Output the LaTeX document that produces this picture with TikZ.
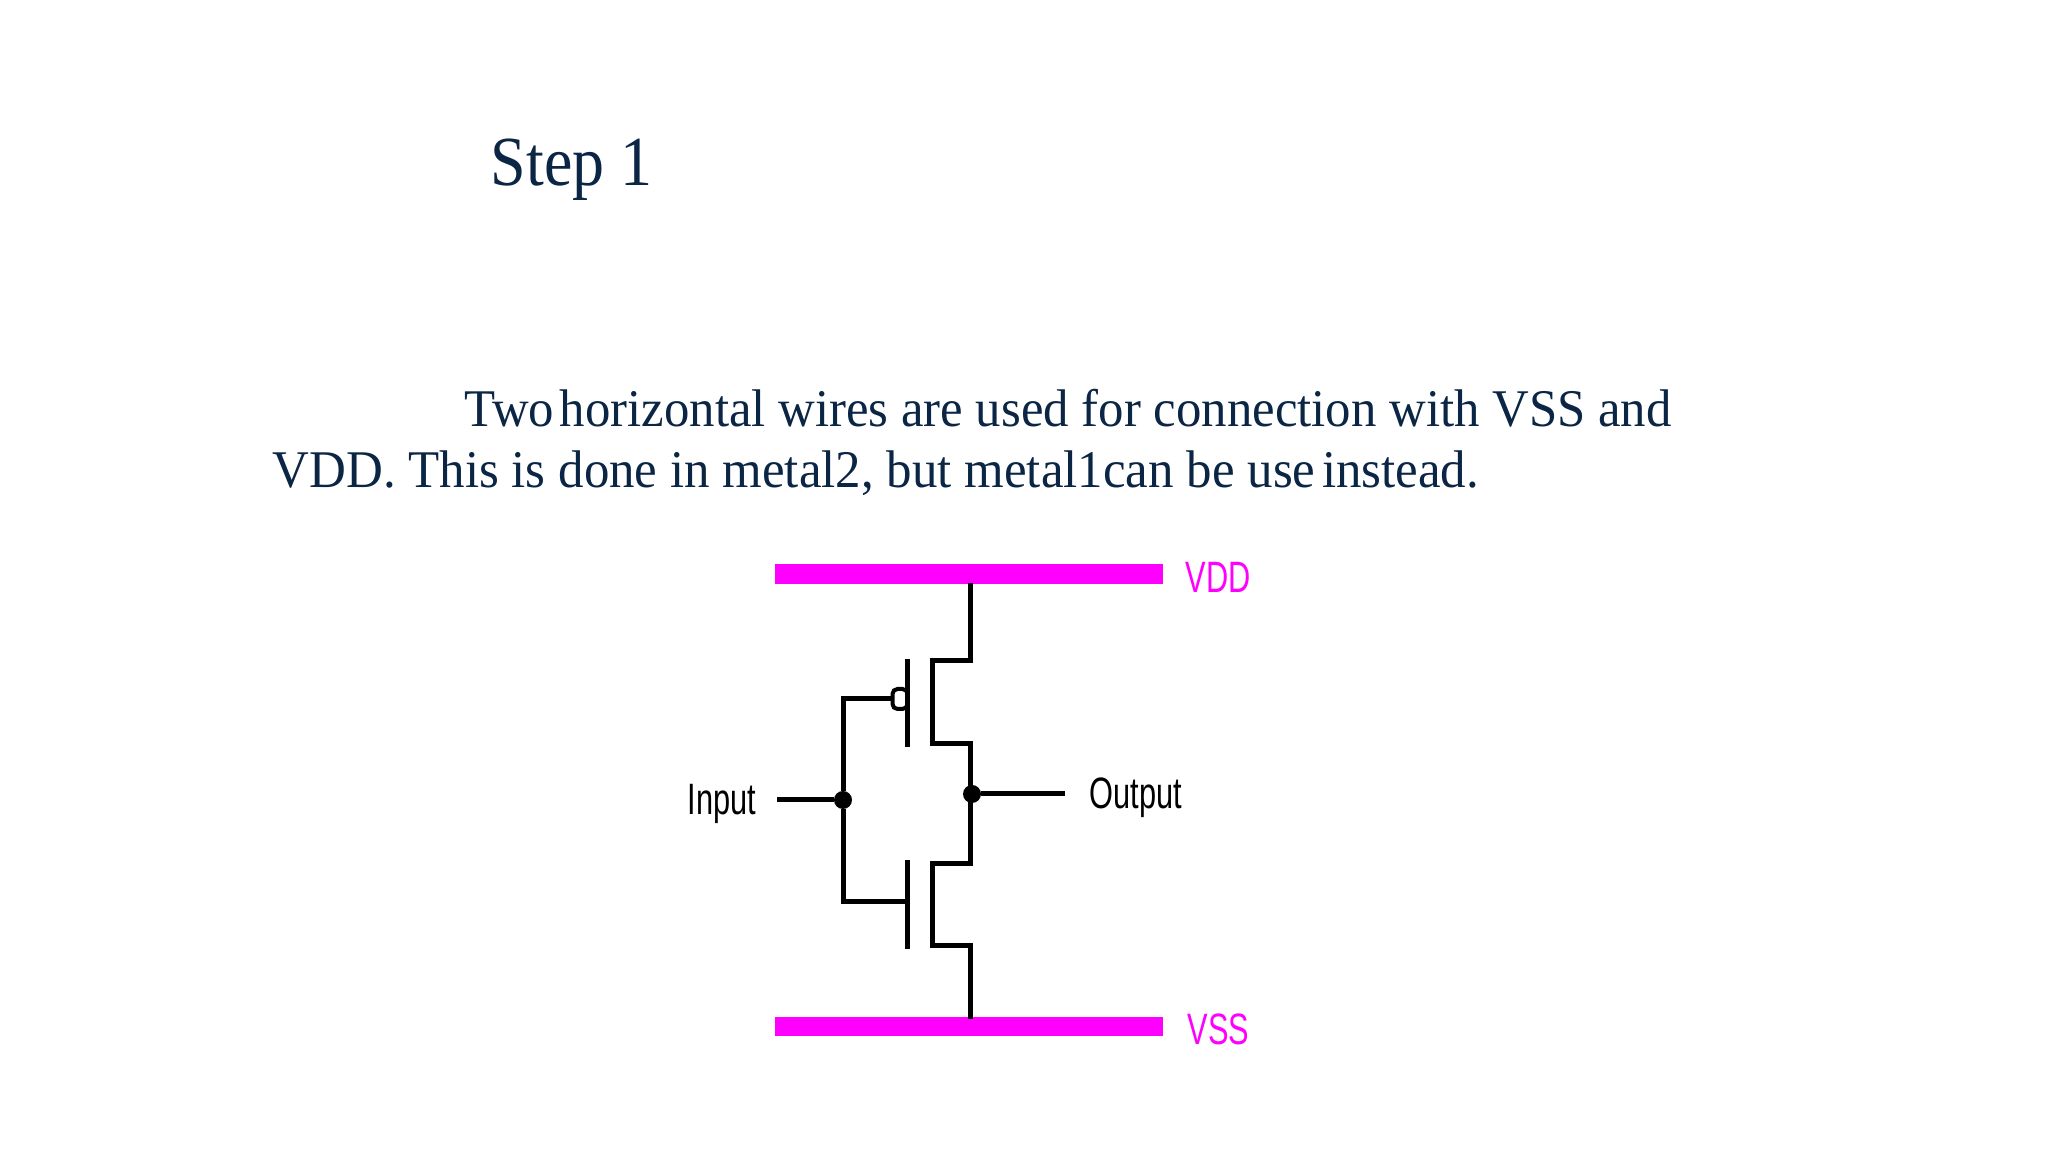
\documentclass[tikz,border=0pt]{standalone}
\usepackage{fontspec}
\setmainfont{Liberation Serif}
\newfontfamily\labelfont{Liberation Sans}
\definecolor{navytext}{HTML}{0B2545}
\definecolor{railpink}{HTML}{FF00FF}
\begin{document}
\begin{tikzpicture}[
        rail/.style={rectangle, fill=railpink, inner sep=0pt, minimum width=3.88cm},
        wire/.style={line width=0.05cm, black},
        junction/.style={circle, fill=black, inner sep=0pt, outer sep=0pt, minimum size=0.18cm},
        bubble/.style={rectangle, rounded corners=0.05cm, draw=black, line width=0.04cm, fill=white, inner sep=0pt, minimum width=0.15cm, minimum height=0.2cm},
        heading/.style={anchor=base west, inner sep=0pt, text=navytext, font=\fontsize{18.2pt}{20pt}\selectfont},
        body/.style={anchor=base west, inner sep=0pt, text=navytext, font=\fontsize{13.7pt}{16pt}\selectfont},
        pinlabel/.style={anchor=base west, inner sep=0pt, font=\labelfont\fontsize{12.5pt}{14pt}\selectfont}
    ]
    \useasboundingbox (0,0) rectangle (20.48,11.52);

    % Text
    \node (title) at (4.90, 9.66) [heading] {\scalebox{1}[1.1]{Step 1}};
    \node (lineone) at (4.64, 7.25) [body] {\scalebox{1.055}[1.1]{Two\hspace{-0.14em} horizontal wires are used for connection with VSS and}};
    \node (linetwo) at (2.72, 6.64) [body] {\scalebox{1.058}[1.1]{VDD. This is done in metal2, but metal1can be use\hspace{-0.12em} instead.}};

    % Rails
    \node (vdd) at (9.69, 5.775) [rail, minimum height=0.2cm] {};
    \node (vss) at (9.69, 1.25) [rail, minimum height=0.19cm] {};
    \node (vddlabel) at (11.85, 5.59) [pinlabel, text=railpink] {\scalebox{0.7}[1]{VDD}};
    \node (vsslabel) at (11.87, 1.07) [pinlabel, text=railpink] {\scalebox{0.7}[1]{VSS}};

    % Junctions
    \node (injoin) at (8.43, 3.52) [junction] {};
    \node (outjoin) at (9.72, 3.58) [junction] {};

    % Free wire ends and gate plates
    \coordinate (instart) at (7.77, 3.52);
    \coordinate (outend) at (10.65, 3.58);
    \coordinate (ptop) at (9.07, 4.93);
    \coordinate (pbot) at (9.07, 4.05);
    \coordinate (ntop) at (9.07, 2.92);
    \coordinate (nbot) at (9.07, 2.03);
    \coordinate (ngate) at (9.07, 2.50);
    \coordinate (drainup) at (9.70, 5.69);
    \coordinate (draindown) at (9.70, 1.33);

    % Input and output
    \node (input) at (6.87, 3.37) [pinlabel] {\scalebox{0.7}[1]{Input}};
    \node (output) at (10.89, 3.43) [pinlabel] {\scalebox{0.7}[1]{Output}};
    \draw[wire] (instart) -- (injoin);
    \draw[wire] (outjoin) -- (outend);

    % Gates
    \node (pbubble) at (9.00, 4.53) [bubble] {};
    \draw[wire] (injoin) |- (pbubble);
    \draw[wire] (injoin) |- (ngate);
    \draw[wire] (ptop) -- (pbot);
    \draw[wire] (ntop) -- (nbot);

    % Drain path
    \draw[wire] (drainup) -- (9.70, 4.91) -- (9.32, 4.91) -- (9.32, 4.08) -- (9.70, 4.08)
        -- (9.70, 2.885) -- (9.32, 2.885) -- (9.32, 2.065) -- (9.70, 2.065) -- (draindown);

\end{tikzpicture}
\end{document}
